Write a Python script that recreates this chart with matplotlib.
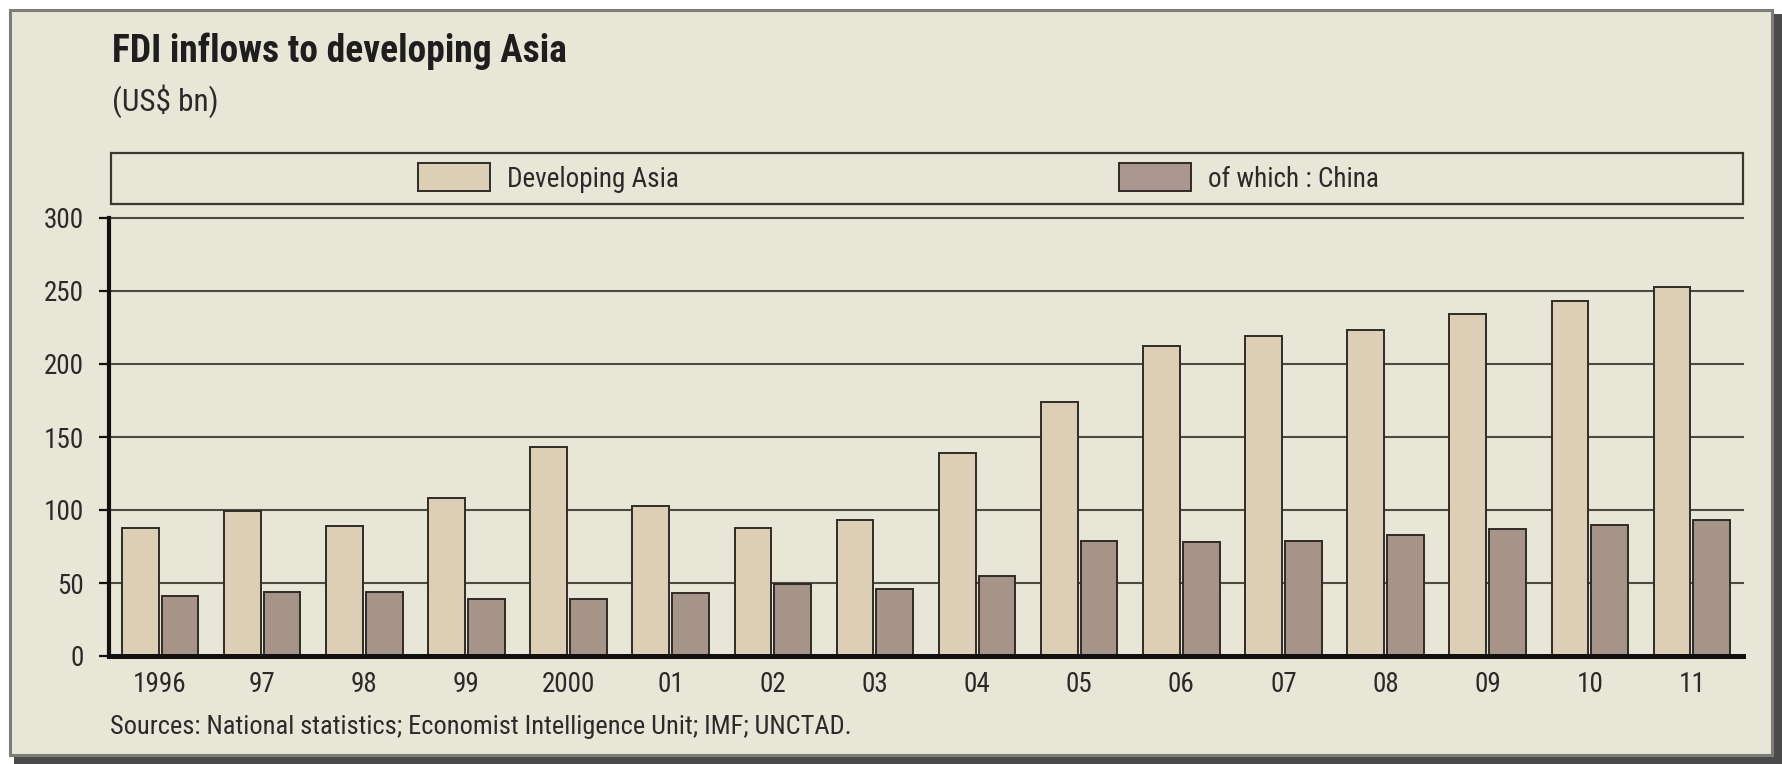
import numpy as np
import matplotlib
matplotlib.use("Agg")
import matplotlib.pyplot as plt
from matplotlib import font_manager
from matplotlib.patches import Rectangle, Patch

# FDI inflows, US$ bn
years = ["1996", "97", "98", "99", "2000", "01", "02", "03",
         "04", "05", "06", "07", "08", "09", "10", "11"]
developing_asia = [88, 99, 89, 108, 143, 103, 88, 93,
                   139, 174, 212, 219, 223, 234, 243, 253]
china = [41, 44, 44, 39, 39, 43, 49, 46,
         55, 79, 78, 79, 83, 87, 90, 93]
series_names = ["Developing Asia", "of which : China"]
yticks = [0, 50, 100, 150, 200, 250, 300]

W, H = 1783, 764
BG = "#e8e6d6"
TAN = "#ddcfb6"
TAUPE = "#a69489"
EDGE = "#2f2b27"
GRID = "#4d4a40"
TEXT = "#2a2a2a"

# prefer a narrow face; otherwise the condensed cut of DejaVu
installed = {f.name for f in font_manager.fontManager.ttflist}
narrow = [n for n in ["Roboto Condensed", "Liberation Sans Narrow",
                      "Open Sans Condensed", "Noto Sans Condensed"]
          if n in installed]
if narrow:
    plt.rcParams["font.family"] = [narrow[0], "DejaVu Sans"]
else:
    plt.rcParams["font.family"] = ["DejaVu Sans"]
    plt.rcParams["font.stretch"] = "condensed"


def fx(px):
    return px / W


def fy(py):
    return 1 - py / H


fig = plt.figure(figsize=(W / 100, H / 100), dpi=100, facecolor="white")

# panel with drop shadow
fig.add_artist(Rectangle((fx(14), fy(764)), fx(1783 - 14), 750 / H,
                         transform=fig.transFigure, facecolor="#4a4a4a",
                         edgecolor="none", zorder=0))
fig.add_artist(Rectangle((fx(10), fy(755)), fx(1772 - 10), 745 / H,
                         transform=fig.transFigure, facecolor=BG,
                         edgecolor="#7c7c78", linewidth=2.2, zorder=0))

ax = fig.add_axes([fx(109), fy(656), fx(1743 - 109), (656 - 218) / H])
ax.set_facecolor("none")

x = np.arange(len(years))
w = 0.36
off = 0.195
for y in yticks[1:]:
    ax.axhline(y, color=GRID, linewidth=1.5, zorder=1, clip_on=False)
b1 = ax.bar(x - off, developing_asia, w, color=TAN, edgecolor=EDGE,
            linewidth=1.4, zorder=2)
b2 = ax.bar(x + off, china, w, color=TAUPE, edgecolor=EDGE,
            linewidth=1.4, zorder=2)

ax.set_xlim(-0.5, 15.5)
ax.set_ylim(0, 300)
ax.set_xticks(x)
ax.set_xticklabels(years)
ax.set_yticks(yticks)
ax.tick_params(axis="x", length=0, pad=11, labelsize=19.5, labelcolor=TEXT)
ax.tick_params(axis="y", length=7, width=1.6, color="#111111", pad=11,
               labelsize=19.5, labelcolor=TEXT)
for side in ["top", "right"]:
    ax.spines[side].set_visible(False)
ax.spines["left"].set_linewidth(3.0)
ax.spines["left"].set_color("#111111")
ax.spines["bottom"].set_linewidth(3.6)
ax.spines["bottom"].set_color("#111111")
ax.spines["left"].set_zorder(3)
ax.spines["bottom"].set_zorder(3)

# legend strip above the plot
fig.add_artist(Rectangle((fx(111), fy(204)), fx(1743 - 111), 51 / H,
                         transform=fig.transFigure, facecolor="none",
                         edgecolor="#3a382f", linewidth=1.6, zorder=1))
handles = [Patch(facecolor=TAN, edgecolor=EDGE, linewidth=1.4),
           Patch(facecolor="#a8968f", edgecolor=EDGE, linewidth=1.4)]
leg = fig.legend(handles, series_names, ncol=2, loc="center left",
                 bbox_to_anchor=(fx(418), fy(178)), frameon=False,
                 fontsize=19.5, handlelength=2.67, handleheight=1.2,
                 handletextpad=0.62, columnspacing=16.25, borderpad=0,
                 borderaxespad=0)
for t in leg.get_texts():
    t.set_color(TEXT)

fig.text(fx(112), fy(51), "FDI inflows to developing Asia", fontsize=27,
         fontweight="bold", color="#1e1e1e", va="center", ha="left")
fig.text(fx(112), fy(101), "(US$ bn)", fontsize=22.5, color=TEXT,
         va="center", ha="left")
fig.text(fx(110), fy(727),
         "Sources: National statistics; Economist Intelligence Unit; IMF; UNCTAD.",
         fontsize=19, color=TEXT, va="center", ha="left")

fig.savefig("out.png", dpi=100, facecolor="white")
